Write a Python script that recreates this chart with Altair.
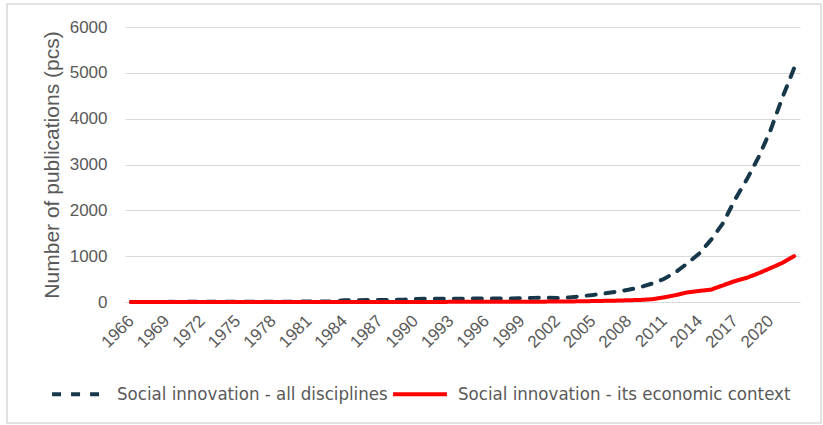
import altair as alt
import pandas as pd

# Publication counts per year, 1966-2022
years = list(range(1966, 2023))

all_disciplines = [
    2, 1, 2, 3, 2, 3, 4, 3, 5, 4,        # 1966-1975
    5, 6, 5, 7, 8, 9, 10, 12,            # 1976-1983
    40, 40, 42, 45, 45, 50,              # 1984-1989
    65, 70, 72, 72, 72, 75, 75, 75, 78, 80,   # 1990-1999
    90, 95, 85, 100, 126, 153, 186, 225, 267, 322,   # 2000-2009
    402, 502, 650, 845, 1060, 1360, 1720, 2230, 2670, 3160,  # 2010-2019
    3740, 4450, 5100,                    # 2020-2022
]

economic_context = [
    0, 0, 0, 0, 0, 0, 0, 0, 0, 0,        # 1966-1975
    0, 0, 0, 0, 0, 0, 0, 0,              # 1976-1983
    0, 0, 0, 1, 1, 1,                    # 1984-1989
    2, 2, 2, 3, 3, 3, 4, 4, 4, 5,        # 1990-1999
    5, 8, 10, 12, 15, 20, 25, 30, 38, 45,  # 2000-2009
    60, 100, 150, 210, 242, 270, 363, 455, 528, 627,  # 2010-2019
    738, 853, 1000,                      # 2020-2022
]

series_names = [
    "Social innovation - all disciplines",
    "Social innovation - its economic context",
]
series_colors = ["#17384a", "#ff0000"]
series_dashes = [[9, 10], [1, 0]]

tick_years = list(range(1966, 2021, 3))
y_ticks = [0, 1000, 2000, 3000, 4000, 5000, 6000]

df = pd.concat([
    pd.DataFrame({"year": years, "count": all_disciplines, "series": series_names[0]}),
    pd.DataFrame({"year": years, "count": economic_context, "series": series_names[1]}),
])

GRAY = "#595959"
FONT = "Liberation Sans"

lines = alt.Chart(df).mark_line(strokeWidth=4, strokeCap="round").encode(
    x=alt.X(
        "year:O",
        scale=alt.Scale(type="point", padding=0.5),
        axis=alt.Axis(
            values=tick_years,
            labelAngle=-45,
            labelAlign="right",
            labelBaseline="middle",
            labelFontSize=17,
            labelColor=GRAY,
            labelFont=FONT,
            labelPadding=16,
            ticks=False,
            domain=False,
            grid=False,
            title=None,
        ),
    ),
    y=alt.Y(
        "count:Q",
        scale=alt.Scale(domain=[0, 6000], nice=False),
        axis=alt.Axis(
            values=y_ticks,
            format="d",
            title="Number of publications (pcs)",
            titleFont=FONT,
            titleFontSize=21,
            titleFontWeight="normal",
            titleColor=GRAY,
            titleX=-63,
            labelFontSize=17,
            labelFont=FONT,
            labelColor=GRAY,
            labelPadding=18,
            ticks=False,
            domain=False,
            grid=True,
            gridColor="#d9d9d9",
            gridWidth=1.2,
        ),
    ),
    color=alt.Color(
        "series:N",
        scale=alt.Scale(domain=series_names, range=series_colors),
        legend=alt.Legend(
            title=None,
            orient="none",
            direction="horizontal",
            legendX=-75,
            legendY=338,
            symbolType="stroke",
            symbolSize=2900,
            symbolStrokeWidth=4,
            labelFont="DejaVu Sans Condensed",
            labelFontSize=18.5,
            labelColor=GRAY,
            labelOffset=9,
            columnPadding=-3,
            labelLimit=400,
        ),
    ),
    strokeDash=alt.StrokeDash(
        "series:N",
        scale=alt.Scale(domain=series_names, range=series_dashes),
        legend=None,
    ),
    order=alt.Order("series:N", sort="ascending"),
)

# light frame around the whole chart area
frame = alt.Chart(pd.DataFrame({"f": [0]})).mark_rect(
    fill="transparent", stroke="#d9d9d9", strokeWidth=1.5
).encode(
    x=alt.value(-118), x2=alt.value(696), y=alt.value(-23), y2=alt.value(396)
)

chart = alt.layer(frame, lines).properties(
    width=675,
    height=275,
    autosize=alt.AutoSizeParams(type="none"),
    padding={"left": 125, "top": 27, "right": 23, "bottom": 123},
    background="white",
).configure_view(stroke=None)

chart.save("out.html", embed_options={"renderer": "svg", "actions": False})
